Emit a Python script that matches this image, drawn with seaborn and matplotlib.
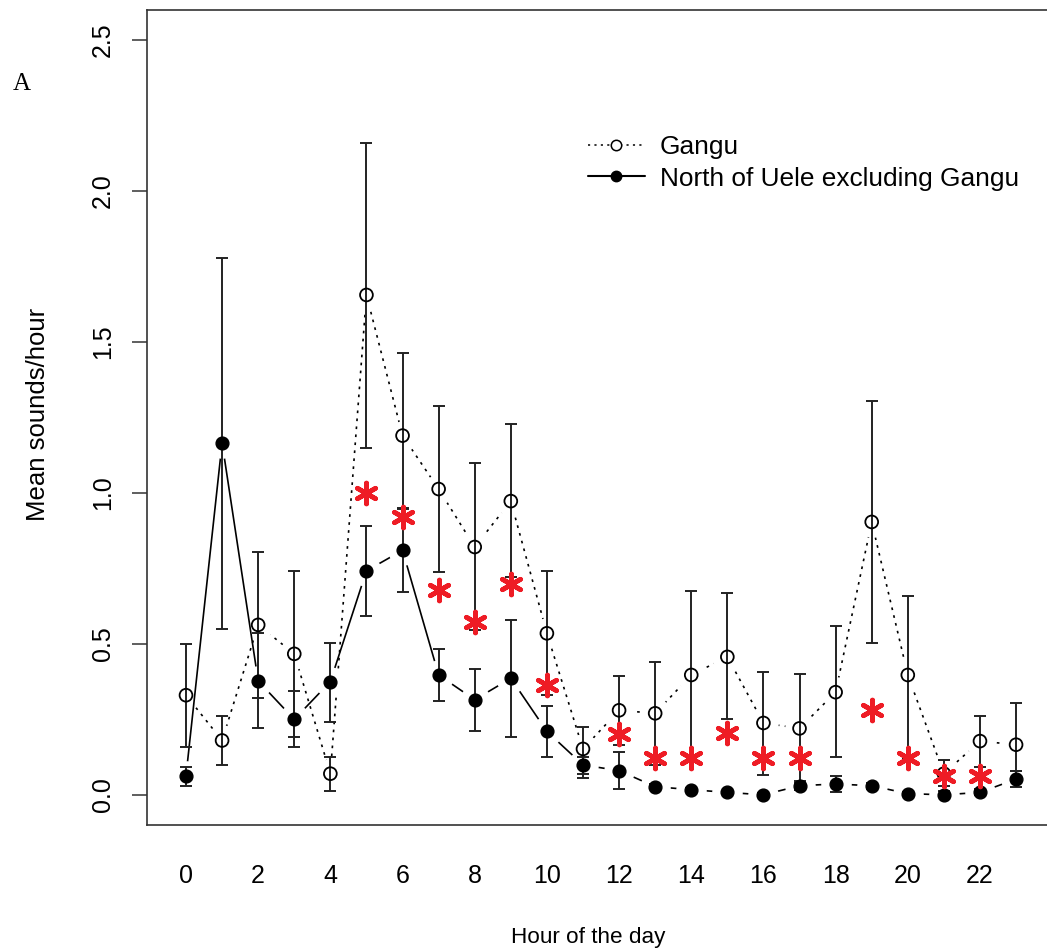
import numpy as np
import pandas as pd
import matplotlib
matplotlib.use("Agg")
import matplotlib.pyplot as plt
from matplotlib.lines import Line2D
import seaborn as sns

# ---------------- data ----------------
hours = list(range(24))
gangu_mean = [0.33, 0.18, 0.563, 0.467, 0.07, 1.656, 1.19, 1.013, 0.821, 0.973, 0.535, 0.152,
              0.28, 0.27, 0.397, 0.457, 0.238, 0.22, 0.34, 0.904, 0.397, 0.07, 0.178, 0.166]
gangu_upper = [0.50, 0.26, 0.805, 0.74, 0.125, 2.16, 1.463, 1.289, 1.099, 1.23, 0.74, 0.226,
               0.395, 0.44, 0.675, 0.668, 0.407, 0.40, 0.559, 1.305, 0.66, 0.115, 0.262, 0.304]
gangu_lower = [0.16, 0.10, 0.22, 0.16, 0.014, 1.15, 0.95, 0.738, 0.546, 0.72, 0.33, 0.057,
               0.165, 0.10, 0.126, 0.25, 0.066, 0.04, 0.126, 0.503, 0.12, 0.03, 0.093, 0.08]

north_mean = [0.063, 1.166, 0.377, 0.25, 0.375, 0.742, 0.81, 0.397, 0.315, 0.386, 0.21, 0.099,
              0.08, 0.027, 0.017, 0.008, 0.0, 0.03, 0.036, 0.03, 0.004, 0.0, 0.008, 0.052]
north_upper = [0.093, 1.78, 0.535, 0.345, 0.503, 0.89, 0.947, 0.483, 0.418, 0.58, 0.295, 0.125,
               0.142, 0.035, 0.022, 0.012, 0.005, 0.045, 0.062, 0.04, 0.01, 0.012, 0.02, 0.08]
north_lower = [0.03, 0.55, 0.32, 0.19, 0.24, 0.593, 0.672, 0.311, 0.21, 0.19, 0.125, 0.07,
               0.02, 0.02, 0.012, 0.004, 0.0, 0.015, 0.01, 0.02, 0.0, 0.0, 0.0, 0.025]

sig_hours = [5, 6, 7, 8, 9, 10, 12, 13, 14, 15, 16, 17, 19, 20, 21, 22]
sig_y = [1.0, 0.92, 0.68, 0.573, 0.70, 0.364, 0.20, 0.123, 0.123, 0.205, 0.123, 0.123,
         0.28, 0.123, 0.063, 0.063]

series_names = ["Gangu", "North of Uele excluding Gangu"]
x_ticks = list(range(0, 23, 2))
y_ticks = [0.0, 0.5, 1.0, 1.5, 2.0, 2.5]
y_ticklabels = ["0.0", "0.5", "1.0", "1.5", "2.0", "2.5"]

# ---------------- style ----------------
sns.set_style("white")
plt.rcParams["font.family"] = ["Liberation Sans", "DejaVu Sans"]
plt.rcParams["text.color"] = "black"
plt.rcParams["xtick.color"] = "black"
plt.rcParams["ytick.color"] = "black"

W, H = 1047, 949
fig = plt.figure(figsize=(W / 100, H / 100), dpi=100)
ax = fig.add_axes([147 / W, 1 - 825 / H, 1.01 - 147 / W, (825 - 10) / H])

df_g = pd.DataFrame({"hour": hours, "val": gangu_mean})
df_n = pd.DataFrame({"hour": hours, "val": north_mean})
df_s = pd.DataFrame({"hour": sig_hours, "val": sig_y})

halo = 22 ** 2
# lines (R type = "b": gaps around points via white halos)
sns.lineplot(data=df_g, x="hour", y="val", ax=ax, color="black", lw=1.2,
             dashes=False, linestyle=(0, (1.6, 3.2)), zorder=1)
sns.scatterplot(data=df_g, x="hour", y="val", ax=ax, color="white", s=halo,
                linewidth=0, zorder=2)
sns.lineplot(data=df_n, x="hour", y="val", ax=ax, color="black", lw=1.2,
             dashes=False, zorder=3)
sns.scatterplot(data=df_n, x="hour", y="val", ax=ax, color="white", s=halo,
                linewidth=0, zorder=4)

# error bars
g_mean = np.array(gangu_mean)
n_mean = np.array(north_mean)
ax.errorbar(hours, gangu_mean,
            yerr=[g_mean - np.array(gangu_lower), np.array(gangu_upper) - g_mean],
            fmt="none", ecolor="#222222", elinewidth=1.4, capsize=4.5, capthick=1.4, zorder=5)
ax.errorbar(hours, north_mean,
            yerr=[n_mean - np.array(north_lower), np.array(north_upper) - n_mean],
            fmt="none", ecolor="#222222", elinewidth=1.4, capsize=4.5, capthick=1.4, zorder=5)

# markers
sns.scatterplot(data=df_g, x="hour", y="val", ax=ax, marker="o", s=9.2 ** 2,
                facecolor="none", edgecolor="black", linewidth=1.3, zorder=6)
sns.scatterplot(data=df_n, x="hour", y="val", ax=ax, marker="o", s=9.2 ** 2,
                color="black", edgecolor="black", linewidth=1.0, zorder=6)

# significance asterisks
sns.scatterplot(data=df_s, x="hour", y="val", ax=ax, marker=(6, 2, 0), s=15 ** 2,
                color="#ee1c25", edgecolor="#ee1c25", linewidth=3.4, zorder=7)

# axes
x_per_px = 1 / 36.09
ax.set_xlim(-39 * x_per_px, -39 * x_per_px + (1.01 * W - 147) * x_per_px)
ax.set_ylim(-0.1, 2.6)
ax.set_xticks(x_ticks)
ax.set_xticklabels([str(t) for t in x_ticks], fontsize=18)
ax.set_yticks(y_ticks)
ax.set_yticklabels(y_ticklabels, fontsize=18, rotation=90, va="center")
ax.tick_params(axis="x", length=0, pad=28)
ax.tick_params(axis="y", length=11, width=1.1, color="#333333", pad=12, left=True)
for s in ["left", "bottom", "top", "right"]:
    ax.spines[s].set_color("#333333")
    ax.spines[s].set_linewidth(1.2)
ax.set_xlabel("")
ax.set_ylabel("")
ax.grid(False)

fig.text(588 / W, 1 - 937 / H, "Hour of the day", fontsize=16.2, ha="center", va="center")
fig.text(38 / W, 1 - 414 / H, "Mean sounds/hour", fontsize=18.5, ha="center", va="center",
         rotation=90)
fig.text(22 / W, 1 - 84 / H, "A", fontsize=18, ha="center", va="center",
         family=["Liberation Serif", "DejaVu Serif"])

# legend
handles = [
    Line2D([0], [0], color="black", lw=1.1, linestyle=(0, (1.4, 2.8)), marker="o",
           markersize=7.5, markerfacecolor="white", markeredgecolor="black", markeredgewidth=1.1),
    Line2D([0], [0], color="black", lw=1.5, linestyle="-", marker="o",
           markersize=7.5, markerfacecolor="black", markeredgecolor="black"),
]
leg = ax.legend(handles=handles, labels=series_names, loc="upper left",
                bbox_to_anchor=(588 / W, 1 - 135 / H), bbox_transform=fig.transFigure,
                frameon=False, fontsize=18.9, handlelength=2.16, handletextpad=0.57,
                labelspacing=0.29, borderpad=0, borderaxespad=0)

fig.savefig("out.png", dpi=100)
